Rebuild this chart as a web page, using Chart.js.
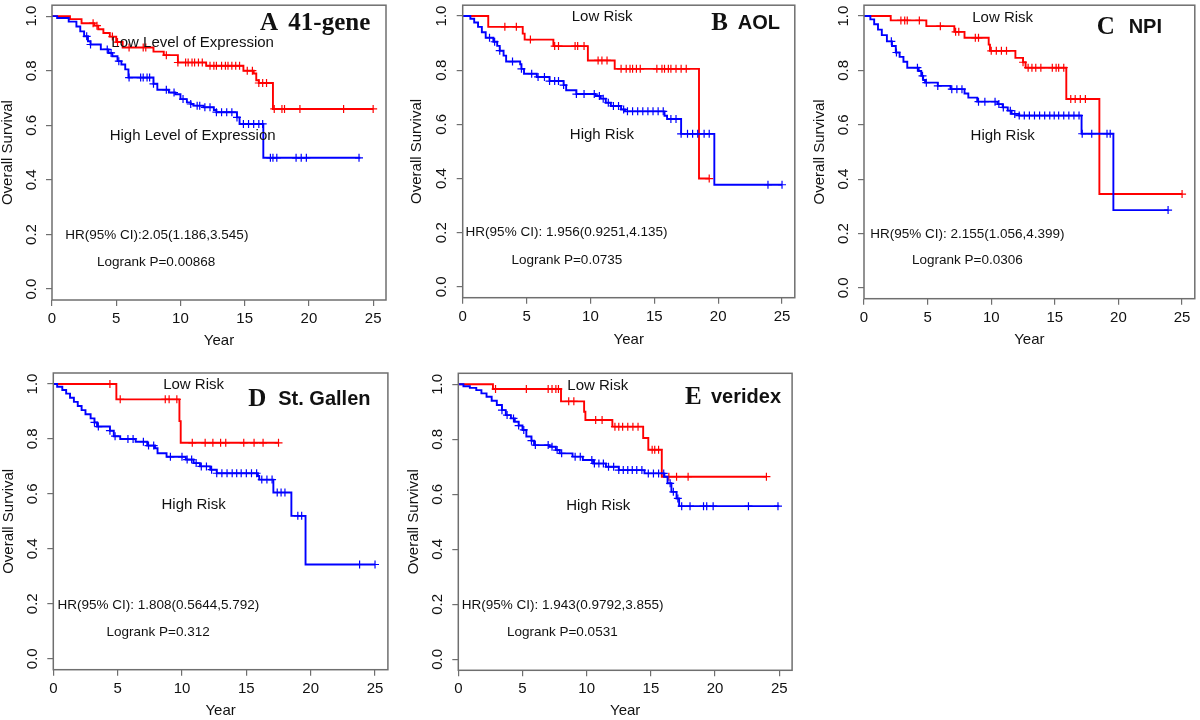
<!DOCTYPE html>
<html>
<head>
<meta charset="utf-8">
<script src="https://cdn.jsdelivr.net/npm/chart.js@4.4.1/dist/chart.umd.min.js"></script>
<style>
  body { margin: 0; background: #fff; }
  #wrap { position: relative; width: 1200px; height: 720px; overflow: hidden; }
  canvas { position: absolute; }
</style>
</head>
<body>
<div id="wrap">
  <canvas id="pA" width="400" height="360" style="left:0;top:0"></canvas>
  <canvas id="pB" width="400" height="360" style="left:400px;top:0"></canvas>
  <canvas id="pC" width="400" height="360" style="left:800px;top:0"></canvas>
  <canvas id="pD" width="400" height="360" style="left:0;top:360px"></canvas>
  <canvas id="pE" width="400" height="360" style="left:400px;top:360px"></canvas>
</div>
<script>
// axis ticks
const xTicks = [0, 5, 10, 15, 20, 25];
const yTicks = [0, 0.2, 0.4, 0.6, 0.8, 1.0];

// A 41-gene
const aLowTime = [0, 1.4, 2.3, 3.3, 3.6, 4.0, 4.5, 5.0, 5.5, 7.9, 8.7, 9.8, 12.0, 14.9, 15.7, 15.9, 16.1, 17.2, 25.0];
const aLowSurv = [1.0, 0.989, 0.974, 0.965, 0.952, 0.938, 0.925, 0.905, 0.885, 0.870, 0.857, 0.830, 0.818, 0.800, 0.790, 0.765, 0.755, 0.660, 0.660];
const aLowCens = [3.2, 3.5, 4.7, 5.1, 6.0, 7.1, 7.3, 8.9, 9.8, 10.4, 10.6, 10.9, 11.1, 11.4, 11.7, 12.3, 12.6, 12.8, 13.2, 13.5, 13.7, 14.0, 14.3, 14.6, 15.2, 15.6, 16.1, 16.4, 16.7, 17.3, 17.9, 18.1, 19.3, 22.7, 25.0];
const aHighTime = [0, 0.4, 1.3, 1.9, 2.2, 2.5, 2.8, 3.0, 3.8, 4.4, 4.7, 5.1, 5.4, 5.7, 5.95, 7.9, 8.2, 9.1, 9.6, 10.0, 10.5, 10.8, 11.0, 11.8, 12.6, 12.8, 14.4, 14.6, 16.45, 24.0];
const aHighSurv = [1.0, 0.993, 0.98, 0.962, 0.944, 0.926, 0.908, 0.896, 0.878, 0.865, 0.853, 0.835, 0.823, 0.805, 0.775, 0.752, 0.730, 0.720, 0.714, 0.696, 0.684, 0.678, 0.672, 0.666, 0.656, 0.648, 0.629, 0.605, 0.481, 0.481];
const aHighCens = [2.7, 3.0, 4.3, 4.6, 5.2, 6.0, 6.9, 7.1, 7.4, 7.6, 7.9, 8.9, 9.5, 10.2, 10.8, 11.3, 11.5, 11.9, 12.3, 12.8, 13.2, 13.6, 14.0, 14.4, 14.9, 15.3, 15.7, 16.1, 16.4, 17.0, 17.2, 17.5, 19.0, 19.4, 19.8, 23.9];

// B AOL
const bLowTime = [0, 2.0, 4.7, 4.85, 7.1, 9.8, 11.9, 18.5, 19.3];
const bLowSurv = [1.0, 0.96, 0.935, 0.913, 0.889, 0.836, 0.805, 0.40, 0.40];
const bLowCens = [3.3, 4.2, 5.3, 7.2, 7.5, 8.8, 9.0, 9.5, 10.6, 10.9, 11.3, 12.4, 12.8, 13.1, 13.3, 13.6, 13.9, 15.2, 15.6, 15.8, 16.1, 16.3, 16.7, 17.1, 17.5, 19.3];
const bHighTime = [0, 0.6, 0.9, 1.2, 1.5, 1.8, 2.4, 2.7, 2.9, 3.2, 3.4, 4.5, 4.6, 4.8, 5.8, 6.8, 7.9, 8.1, 8.9, 10.4, 10.8, 11.2, 11.6, 12.4, 12.7, 15.8, 16.0, 17.1, 19.7, 25.0];
const bHighSurv = [1.0, 0.99, 0.976, 0.96, 0.94, 0.92, 0.905, 0.89, 0.872, 0.854, 0.832, 0.822, 0.805, 0.787, 0.775, 0.76, 0.745, 0.726, 0.712, 0.705, 0.695, 0.68, 0.668, 0.655, 0.648, 0.632, 0.62, 0.565, 0.377, 0.377];
const bHighCens = [2.1, 2.5, 2.9, 3.9, 4.6, 5.4, 5.9, 6.4, 6.8, 7.2, 7.5, 7.9, 8.9, 9.5, 10.3, 10.7, 11.0, 11.4, 11.8, 12.2, 12.6, 12.9, 13.3, 13.7, 14.1, 14.5, 14.9, 15.3, 15.7, 16.3, 16.7, 17.1, 17.6, 18.0, 18.4, 18.9, 19.3, 23.9, 25.0];

// C NPI
const cLowTime = [0, 2.1, 4.9, 7.1, 7.9, 9.8, 9.9, 11.9, 12.5, 12.7, 15.9, 18.5, 25.0];
const cLowSurv = [1.0, 0.984, 0.963, 0.942, 0.92, 0.895, 0.872, 0.846, 0.83, 0.81, 0.695, 0.345, 0.345];
const cLowCens = [2.9, 3.2, 3.4, 4.35, 6.0, 7.2, 7.45, 8.75, 9.0, 10.0, 10.4, 10.8, 11.2, 12.5, 12.9, 13.2, 13.5, 13.9, 14.8, 15.1, 15.3, 15.7, 16.25, 16.6, 17.0, 17.4, 25.0];
const cHighTime = [0, 0.5, 0.8, 1.1, 1.4, 1.8, 2.2, 2.5, 2.8, 3.1, 3.4, 4.3, 4.5, 4.65, 4.8, 5.8, 6.8, 7.9, 8.2, 8.9, 10.5, 10.9, 11.3, 11.6, 12.2, 17.1, 19.6, 23.9];
const cHighSurv = [1.0, 0.988, 0.97, 0.95, 0.93, 0.907, 0.89, 0.866, 0.85, 0.832, 0.81, 0.798, 0.78, 0.765, 0.755, 0.743, 0.731, 0.715, 0.70, 0.685, 0.676, 0.664, 0.652, 0.64, 0.634, 0.567, 0.286, 0.286];
const cHighCens = [2.15, 2.55, 4.2, 4.6, 4.9, 5.8, 6.9, 7.3, 7.7, 9.0, 9.5, 10.3, 10.6, 10.95, 11.5, 11.85, 12.2, 12.6, 13.0, 13.4, 13.8, 14.2, 14.6, 14.95, 15.3, 15.7, 16.1, 16.5, 16.9, 17.15, 17.9, 19.1, 19.35, 23.9];

// D St. Gallen
const dLowTime = [0, 4.9, 9.8, 9.9, 17.5];
const dLowSurv = [1.0, 0.944, 0.865, 0.786, 0.786];
const dLowCens = [4.4, 5.2, 8.7, 9.0, 9.6, 10.8, 11.8, 12.4, 13.0, 13.4, 14.8, 15.6, 16.3, 17.5];
const dHighTime = [0, 0.3, 0.7, 1.0, 1.3, 1.6, 1.9, 2.2, 2.5, 2.9, 3.2, 3.4, 4.4, 4.7, 5.2, 6.4, 7.3, 7.9, 8.1, 8.8, 10.3, 10.9, 11.4, 12.2, 12.7, 15.9, 16.0, 17.1, 18.5, 19.6, 25.0];
const dHighSurv = [1.0, 0.99, 0.978, 0.965, 0.95, 0.935, 0.92, 0.905, 0.89, 0.875, 0.86, 0.845, 0.83, 0.81, 0.80, 0.79, 0.776, 0.766, 0.748, 0.735, 0.725, 0.712, 0.70, 0.688, 0.675, 0.665, 0.652, 0.605, 0.52, 0.343, 0.343];
const dHighCens = [3.2, 3.5, 4.4, 4.8, 5.8, 6.2, 7.0, 7.4, 7.8, 9.1, 10.0, 10.4, 10.75, 11.1, 11.5, 11.9, 12.3, 12.7, 13.1, 13.5, 13.9, 14.25, 14.6, 15.0, 15.4, 15.8, 16.2, 16.6, 17.0, 17.4, 17.7, 18.0, 19.0, 19.3, 23.8, 25.0];

// E veridex
const eLowTime = [0, 2.7, 8.0, 9.8, 9.9, 12.0, 14.4, 14.8, 15.85, 24.0];
const eLowSurv = [1.0, 0.983, 0.938, 0.90, 0.87, 0.846, 0.805, 0.762, 0.664, 0.664];
const eLowCens = [2.9, 5.3, 7.0, 7.3, 7.6, 7.8, 8.6, 9.0, 10.7, 11.2, 12.2, 12.5, 12.8, 13.2, 13.6, 14.0, 15.1, 15.3, 15.6, 16.4, 17.0, 17.9, 24.0];
const eHighTime = [0, 0.4, 0.9, 1.4, 1.8, 2.2, 2.6, 3.0, 3.4, 3.7, 4.1, 4.4, 4.7, 5.0, 5.3, 5.7, 5.9, 7.1, 7.6, 7.9, 8.9, 9.7, 10.5, 11.5, 12.5, 14.5, 16.05, 16.3, 16.6, 17.0, 17.2, 25.0];
const eHighSurv = [1.0, 0.993, 0.987, 0.979, 0.967, 0.955, 0.94, 0.925, 0.906, 0.888, 0.876, 0.864, 0.85, 0.834, 0.81, 0.795, 0.779, 0.773, 0.761, 0.749, 0.737, 0.725, 0.712, 0.70, 0.688, 0.676, 0.664, 0.64, 0.609, 0.585, 0.557, 0.557];
const eHighCens = [3.4, 3.8, 4.3, 4.7, 5.1, 5.7, 6.0, 7.0, 7.3, 7.7, 8.05, 9.1, 9.5, 10.4, 10.6, 10.95, 11.3, 11.7, 12.1, 12.5, 12.85, 13.2, 13.55, 13.9, 14.3, 14.8, 15.2, 15.6, 16.0, 16.5, 16.75, 17.1, 17.4, 18.05, 19.1, 19.35, 19.85, 22.6, 24.9];

const RED = "#ff0000";
const BLUE = "#0000ff";
const SANS = '"Liberation Sans", Arial, sans-serif';
const SERIF = '"Liberation Serif", "Times New Roman", serif';
const labFont = "15px " + SANS;
const statFont = "13.5px " + SANS;
const tagFont = "bold 25px " + SERIF;
const nameFont = "bold 20px " + SANS;

// survival level at time t (for censor ticks)
function levelAt(times, surv, t) {
  let s = surv[0];
  for (let i = 0; i < times.length; i++) {
    if (times[i] <= t) s = surv[i];
  }
  return s;
}

function stepLine(times, surv, color) {
  return {
    data: times.map((t, i) => ({ x: t, y: surv[i] })),
    showLine: true,
    stepped: true,
    borderColor: color,
    borderWidth: 1.9,
    pointRadius: 0,
    fill: false
  };
}

function censMarks(times, surv, cens, color) {
  return {
    data: cens.map(t => ({ x: t, y: levelAt(times, surv, t) })),
    showLine: false,
    pointStyle: "cross",
    pointRadius: 4,
    borderColor: color,
    backgroundColor: color,
    borderWidth: 1.2
  };
}

// box around plot + text notes in data coordinates
const kmFrame = {
  id: "kmFrame",
  afterDatasetsDraw(chart, args, opts) {
    const { ctx, chartArea: a, scales } = chart;
    ctx.save();
    ctx.strokeStyle = "#6f6f6f";
    ctx.lineWidth = 1.5;
    ctx.strokeRect(a.left, a.top, a.right - a.left, a.bottom - a.top);
    ctx.textBaseline = "middle";
    ctx.fillStyle = "#111";
    (opts.notes || []).forEach(n => {
      ctx.font = n.font;
      ctx.textAlign = n.align || "center";
      ctx.fillText(n.text, scales.x.getPixelForValue(n.x), scales.y.getPixelForValue(n.y));
    });
    ctx.restore();
  }
};

function panel(p) {
  new Chart(document.getElementById(p.id), {
    type: "scatter",
    data: {
      datasets: [
        censMarks(p.highT, p.highS, p.highC, BLUE),
        stepLine(p.highT, p.highS, BLUE),
        censMarks(p.lowT, p.lowS, p.lowC, RED),
        stepLine(p.lowT, p.lowS, RED)
      ]
    },
    options: {
      responsive: false,
      animation: false,
      layout: { padding: { top: p.padTop, right: p.padRight, left: 0, bottom: 0 } },
      plugins: {
        legend: { display: false },
        tooltip: { enabled: false },
        kmFrame: { notes: p.notes }
      },
      scales: {
        x: {
          type: "linear",
          min: 0,
          max: 26,
          afterBuildTicks: s => { s.ticks = xTicks.map(v => ({ value: v })); },
          afterFit: s => { s.height = p.xH; s.paddingLeft = 0; s.paddingRight = 0; },
          border: { display: false },
          grid: { drawOnChartArea: false, drawTicks: true, tickLength: 6, color: "#6f6f6f", lineWidth: 1.2 },
          ticks: { autoSkip: false, maxRotation: 0, padding: 4, color: "#111", font: { family: SANS, size: 15 }, callback: v => String(v) },
          title: { display: true, text: "Year", color: "#111", font: { family: SANS, size: 15, lineHeight: 1 }, padding: { top: 0, bottom: p.xTitle } }
        },
        y: {
          type: "linear",
          min: -0.04,
          max: 1.04,
          afterBuildTicks: s => { s.ticks = yTicks.map(v => ({ value: v })); },
          afterFit: s => { s.width = p.yW; s.paddingTop = 0; s.paddingBottom = 0; },
          border: { display: false },
          grid: { drawOnChartArea: false, drawTicks: true, tickLength: 6, color: "#6f6f6f", lineWidth: 1.2 },
          ticks: { autoSkip: false, minRotation: 90, maxRotation: 90, crossAlign: "center", padding: 4, color: "#111", font: { family: SANS, size: 15 }, callback: v => v.toFixed(1) },
          title: { display: true, text: "Overall Survival", color: "#111", font: { family: SANS, size: 15, lineHeight: 1 }, padding: { top: p.yTitle, bottom: 0 } }
        }
      }
    },
    plugins: [kmFrame]
  });
}

panel({
  id: "pA", yW: 52, xH: 60, padTop: 4, padRight: 14, yTitle: 0, xTitle: 11.3,
  lowT: aLowTime, lowS: aLowSurv, lowC: aLowCens, highT: aHighTime, highS: aHighSurv, highC: aHighCens,
  notes: [
    { text: "Low Level of Expression", x: 10.95, y: 0.902, font: labFont },
    { text: "High Level of Expression", x: 10.95, y: 0.562, font: labFont },
    { text: "HR(95% CI):2.05(1.186,3.545)", x: 8.16, y: 0.197, font: statFont },
    { text: "Logrank P=0.00868", x: 8.1, y: 0.097, font: statFont },
    { text: "A", x: 16.2, y: 0.973, align: "left", font: tagFont },
    { text: "41-gene", x: 18.4, y: 0.973, align: "left", font: tagFont }
  ]
});

panel({
  id: "pB", yW: 62.7, xH: 62.3, padTop: 1.3, padRight: 4, yTitle: 9.7, xTitle: 13,
  lowT: bLowTime, lowS: bLowSurv, lowC: bLowCens, highT: bHighTime, highS: bHighSurv, highC: bHighCens,
  notes: [
    { text: "Low Risk", x: 10.92, y: 0.996, font: labFont },
    { text: "High Risk", x: 10.9, y: 0.561, font: labFont },
    { text: "HR(95% CI): 1.956(0.9251,4.135)", x: 8.13, y: 0.2, font: statFont },
    { text: "Logrank P=0.0735", x: 8.15, y: 0.1, font: statFont },
    { text: "B", x: 19.45, y: 0.972, align: "left", font: tagFont },
    { text: "AOL", x: 21.53, y: 0.972, align: "left", font: nameFont }
  ]
});

panel({
  id: "pC", yW: 64, xH: 61.3, padTop: 1.7, padRight: 1, yTitle: 12, xTitle: 12.3,
  lowT: cLowTime, lowS: cLowSurv, lowC: cLowCens, highT: cHighTime, highS: cHighSurv, highC: cHighCens,
  notes: [
    { text: "Low Risk", x: 10.9, y: 0.995, font: labFont },
    { text: "High Risk", x: 10.9, y: 0.559, font: labFont },
    { text: "HR(95% CI): 2.155(1.056,4.399)", x: 8.13, y: 0.198, font: statFont },
    { text: "Logrank P=0.0306", x: 8.13, y: 0.101, font: statFont },
    { text: "C", x: 18.3, y: 0.959, align: "left", font: tagFont },
    { text: "NPI", x: 20.8, y: 0.959, align: "left", font: nameFont }
  ]
});

panel({
  id: "pD", yW: 53.3, xH: 50.3, padTop: 13, padRight: 12.1, yTitle: 1.3, xTitle: 1.3,
  lowT: dLowTime, lowS: dLowSurv, lowC: dLowCens, highT: dHighTime, highS: dHighSurv, highC: dHighCens,
  notes: [
    { text: "Low Risk", x: 10.9, y: 0.996, font: labFont },
    { text: "High Risk", x: 10.9, y: 0.56, font: labFont },
    { text: "HR(95% CI): 1.808(0.5644,5.792)", x: 8.16, y: 0.196, font: statFont },
    { text: "Logrank P=0.312", x: 8.14, y: 0.098, font: statFont },
    { text: "D", x: 15.15, y: 0.944, align: "left", font: tagFont },
    { text: "St. Gallen", x: 17.48, y: 0.944, align: "left", font: nameFont }
  ]
});

panel({
  id: "pE", yW: 58.3, xH: 49.7, padTop: 13.3, padRight: 7.9, yTitle: 6.3, xTitle: 1.3,
  lowT: eLowTime, lowS: eLowSurv, lowC: eLowCens, highT: eHighTime, highS: eHighSurv, highC: eHighCens,
  notes: [
    { text: "Low Risk", x: 10.86, y: 0.994, font: labFont },
    { text: "High Risk", x: 10.9, y: 0.559, font: labFont },
    { text: "HR(95% CI): 1.943(0.9792,3.855)", x: 8.13, y: 0.195, font: statFont },
    { text: "Logrank P=0.0531", x: 8.1, y: 0.097, font: statFont },
    { text: "E", x: 17.66, y: 0.953, align: "left", font: tagFont },
    { text: "veridex", x: 19.68, y: 0.953, align: "left", font: nameFont }
  ]
});
</script>
</body>
</html>
